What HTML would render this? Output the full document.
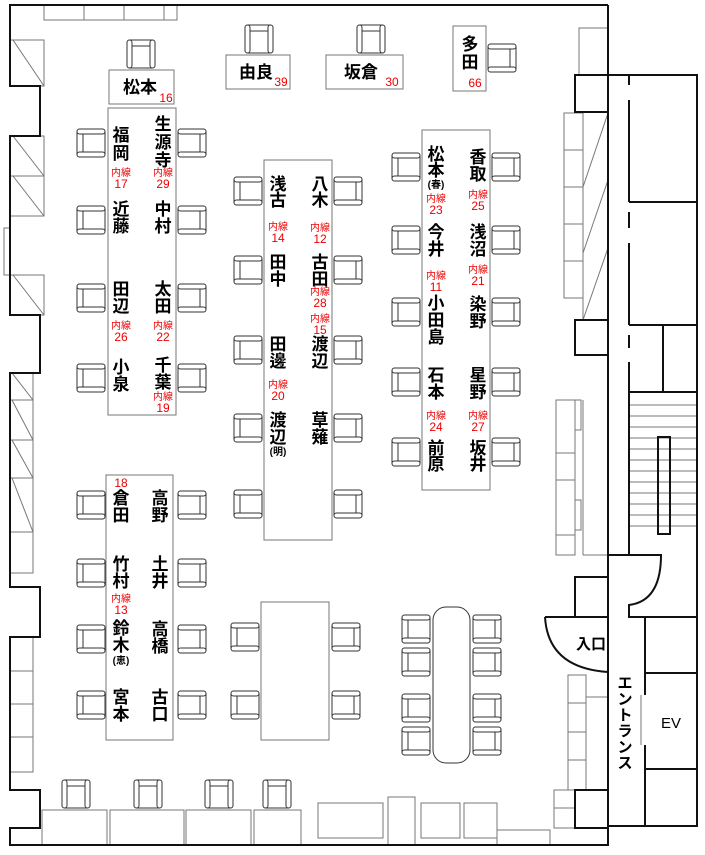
<!DOCTYPE html>
<html><head><meta charset="utf-8"><style>
html,body{margin:0;padding:0;background:#fff}
svg{display:block}
.n{font-family:"Liberation Sans","Noto Sans CJK JP",sans-serif;font-size:17px;font-weight:bold;fill:#000;text-anchor:middle}
.r{font-family:"Liberation Sans","Noto Sans CJK JP",sans-serif;font-size:10px;fill:#e00;text-anchor:middle}
.rn{font-family:"Liberation Sans",sans-serif;font-size:12px;fill:#e00;text-anchor:middle}
.s{font-family:"Liberation Sans","Noto Sans CJK JP",sans-serif;font-size:10px;font-weight:bold;fill:#000;text-anchor:middle}
</style></head><body>
<svg width="705" height="855" viewBox="0 0 705 855" xmlns="http://www.w3.org/2000/svg">
<defs>
<g id="c" fill="#fff" stroke="#333" stroke-width="1">
<rect x="-14" y="-14" width="28" height="28" rx="3"/>
<rect x="-14" y="-14" width="28" height="5" rx="2.5"/>
<rect x="-14" y="9" width="28" height="5" rx="2.5"/>
<line x1="-8" y1="-9" x2="-8" y2="9"/>
</g>
</defs>
<g fill="none" stroke="#777" stroke-width="1">
<!-- top cabinets -->
<rect x="44" y="5" width="133" height="15"/><line x1="84" y1="5" x2="84" y2="20"/><line x1="124" y1="5" x2="124" y2="20"/><line x1="164" y1="5" x2="164" y2="20"/>
<!-- left windows -->
<rect x="10" y="40" width="34" height="46"/><line x1="13" y1="40" x2="44" y2="86"/>
<rect x="10" y="136" width="34" height="40"/><line x1="13" y1="136" x2="44" y2="176"/>
<rect x="10" y="176" width="34" height="40"/><line x1="13" y1="176" x2="44" y2="216"/>
<rect x="4" y="228" width="6" height="47"/>
<rect x="10" y="275" width="34" height="40"/><line x1="13" y1="275" x2="44" y2="315"/>
<rect x="10" y="373" width="23" height="200"/>
<line x1="10" y1="400" x2="33" y2="400"/><line x1="10" y1="440" x2="33" y2="440"/><line x1="10" y1="478" x2="33" y2="478"/><line x1="10" y1="532" x2="33" y2="532"/>
<line x1="12" y1="373" x2="33" y2="400"/><line x1="12" y1="400" x2="33" y2="440"/><line x1="12" y1="440" x2="33" y2="478"/><line x1="12" y1="478" x2="33" y2="532"/>
<rect x="10" y="637" width="23" height="135"/><line x1="10" y1="671" x2="33" y2="671"/><line x1="10" y1="704" x2="33" y2="704"/><line x1="10" y1="737" x2="33" y2="737"/>
<!-- tables -->
<rect x="109" y="70" width="65" height="34"/>
<rect x="226" y="55" width="64" height="34"/>
<rect x="326" y="55" width="77" height="34"/>
<rect x="453" y="26" width="33" height="65"/>
<rect x="108" y="108" width="68" height="307"/>
<rect x="264" y="160" width="68" height="380"/>
<rect x="422" y="130" width="68" height="360"/>
<rect x="106" y="475" width="67" height="265"/>
<rect x="261" y="602" width="68" height="138"/>
<rect x="433" y="607" width="37" height="156" rx="13" stroke="#333"/>
<!-- bottom desks -->
<rect x="42" y="810" width="65" height="35"/><rect x="110" y="810" width="74" height="35"/><rect x="186" y="810" width="65" height="35"/><rect x="254" y="810" width="47" height="35"/>
<rect x="318" y="803" width="65" height="35"/><rect x="388" y="797" width="27" height="48"/><rect x="421" y="803" width="39" height="35"/><rect x="464" y="803" width="33" height="35"/><rect x="497" y="830" width="53" height="15"/>
<!-- right side cabinets -->
<rect x="579" y="28" width="29" height="47"/>
<rect x="564" y="113" width="19" height="185"/><line x1="564" y1="150" x2="583" y2="150"/><line x1="564" y1="187" x2="583" y2="187"/><line x1="564" y1="224" x2="583" y2="224"/><line x1="564" y1="261" x2="583" y2="261"/>
<line x1="583" y1="113" x2="583" y2="320"/><line x1="583" y1="187" x2="608" y2="113"/><line x1="583" y1="253" x2="608" y2="180"/><line x1="583" y1="320" x2="608" y2="248"/>
<rect x="556" y="400" width="19" height="155"/><line x1="556" y1="453" x2="575" y2="453"/><line x1="556" y1="480" x2="575" y2="480"/><line x1="556" y1="535" x2="575" y2="535"/>
<rect x="575" y="400" width="6" height="30"/><rect x="575" y="500" width="6" height="30"/>
<line x1="583" y1="400" x2="583" y2="555"/><line x1="583" y1="555" x2="608" y2="555"/>
<rect x="568" y="675" width="18" height="115"/><line x1="568" y1="703" x2="586" y2="703"/><line x1="568" y1="732" x2="586" y2="732"/><line x1="568" y1="760" x2="586" y2="760"/>
<line x1="586" y1="697" x2="608" y2="697"/><line x1="586" y1="697" x2="586" y2="790"/>
<rect x="554" y="790" width="21" height="38"/><line x1="554" y1="808" x2="575" y2="808"/>
<!-- stairs -->
<line x1="630" y1="405" x2="697" y2="405"/><line x1="630" y1="416" x2="697" y2="416"/><line x1="630" y1="427" x2="697" y2="427"/><line x1="630" y1="438" x2="697" y2="438"/><line x1="630" y1="449" x2="697" y2="449"/><line x1="630" y1="460" x2="697" y2="460"/><line x1="630" y1="471" x2="697" y2="471"/><line x1="630" y1="482" x2="697" y2="482"/><line x1="630" y1="493" x2="697" y2="493"/><line x1="630" y1="504" x2="697" y2="504"/><line x1="630" y1="515" x2="697" y2="515"/><line x1="630" y1="526" x2="697" y2="526"/>
<line x1="641" y1="695" x2="641" y2="745"/>
</g>
<!-- thick walls -->
<g fill="none" stroke="#111" stroke-width="2">
<path d="M608,5 H10 V86 H40 V136 H10 V315 H40 V373 H10 V587 H40 V637 H10 V790 H40 V828 H10 V845 H608 V5"/>
<rect x="575" y="75" width="33" height="37"/>
<rect x="575" y="320" width="33" height="35"/>
<rect x="575" y="577" width="33" height="40"/>
<rect x="575" y="790" width="33" height="38"/>
<path d="M608,75 H697 V826 H608"/>
<path d="M629,75 V85 M629,100 V202 M629,212 V228 M629,243 V325 M629,335 V348 M629,362 V555"/>
<line x1="629" y1="202" x2="697" y2="202"/>
<line x1="629" y1="325" x2="697" y2="325"/>
<line x1="663" y1="325" x2="663" y2="392"/>
<line x1="629" y1="392" x2="697" y2="392"/>
<rect x="658" y="437" width="12" height="97"/>
<path d="M608,555 H661 Q661,601 629,605 V617 H697"/>
<path d="M545,617 H608 M545,617 Q548,668 608,672"/>
<line x1="645" y1="617" x2="645" y2="695"/><line x1="645" y1="745" x2="645" y2="826"/>
<line x1="645" y1="673" x2="697" y2="673"/><line x1="645" y1="769" x2="697" y2="769"/>
</g>
<!-- chairs -->
<g>
<use href="#c" transform="translate(141,54) rotate(90)"/>
<use href="#c" transform="translate(259,39) rotate(90)"/>
<use href="#c" transform="translate(371,39) rotate(90)"/>
<use href="#c" transform="translate(502,58) rotate(180)"/>
<use href="#c" transform="translate(91,143)"/><use href="#c" transform="translate(91,220)"/><use href="#c" transform="translate(91,298)"/><use href="#c" transform="translate(91,378)"/>
<use href="#c" transform="translate(192,143) rotate(180)"/><use href="#c" transform="translate(192,220) rotate(180)"/><use href="#c" transform="translate(192,298) rotate(180)"/><use href="#c" transform="translate(192,378) rotate(180)"/>
<use href="#c" transform="translate(248,191)"/><use href="#c" transform="translate(248,270)"/><use href="#c" transform="translate(248,350)"/><use href="#c" transform="translate(248,428)"/><use href="#c" transform="translate(248,504)"/>
<use href="#c" transform="translate(348,191) rotate(180)"/><use href="#c" transform="translate(348,270) rotate(180)"/><use href="#c" transform="translate(348,350) rotate(180)"/><use href="#c" transform="translate(348,428) rotate(180)"/><use href="#c" transform="translate(348,504) rotate(180)"/>
<use href="#c" transform="translate(406,167)"/><use href="#c" transform="translate(406,240)"/><use href="#c" transform="translate(406,312)"/><use href="#c" transform="translate(406,382)"/><use href="#c" transform="translate(406,452)"/>
<use href="#c" transform="translate(506,167) rotate(180)"/><use href="#c" transform="translate(506,240) rotate(180)"/><use href="#c" transform="translate(506,312) rotate(180)"/><use href="#c" transform="translate(506,382) rotate(180)"/><use href="#c" transform="translate(506,452) rotate(180)"/>
<use href="#c" transform="translate(91,505)"/><use href="#c" transform="translate(91,573)"/><use href="#c" transform="translate(91,639)"/><use href="#c" transform="translate(91,705)"/>
<use href="#c" transform="translate(192,505) rotate(180)"/><use href="#c" transform="translate(192,573) rotate(180)"/><use href="#c" transform="translate(192,639) rotate(180)"/><use href="#c" transform="translate(192,705) rotate(180)"/>
<use href="#c" transform="translate(245,637)"/><use href="#c" transform="translate(245,705)"/>
<use href="#c" transform="translate(346,637) rotate(180)"/><use href="#c" transform="translate(346,705) rotate(180)"/>
<use href="#c" transform="translate(416,629)"/><use href="#c" transform="translate(416,662)"/><use href="#c" transform="translate(416,708)"/><use href="#c" transform="translate(416,741)"/>
<use href="#c" transform="translate(487,629) rotate(180)"/><use href="#c" transform="translate(487,662) rotate(180)"/><use href="#c" transform="translate(487,708) rotate(180)"/><use href="#c" transform="translate(487,741) rotate(180)"/>
<use href="#c" transform="translate(76,794) rotate(90)"/><use href="#c" transform="translate(148,794) rotate(90)"/><use href="#c" transform="translate(219,794) rotate(90)"/><use href="#c" transform="translate(277,794) rotate(90)"/>
</g>
<!-- labels -->
<text class="n" x="140" y="93" style="text-anchor:middle">松本</text><text class="rn" x="166" y="102">16</text>
<text class="n" x="256" y="78">由良</text><text class="rn" x="281" y="86">39</text>
<text class="n" x="361" y="78">坂倉</text><text class="rn" x="392" y="86">30</text>
<text class="n" x="470" y="50">多</text><text class="n" x="470" y="68">田</text><text class="rn" x="475" y="87">66</text>

<text class="n" x="121" y="141">福</text><text class="n" x="121" y="159">岡</text>
<text class="r" x="121" y="176">内線</text><text class="rn" x="121" y="188">17</text>
<text class="n" x="163" y="130">生</text><text class="n" x="163" y="148">源</text><text class="n" x="163" y="166">寺</text>
<text class="r" x="163" y="176">内線</text><text class="rn" x="163" y="188">29</text>
<text class="n" x="121" y="215">近</text><text class="n" x="121" y="232">藤</text>
<text class="n" x="163" y="215">中</text><text class="n" x="163" y="232">村</text>
<text class="n" x="121" y="295">田</text><text class="n" x="121" y="312">辺</text>
<text class="r" x="121" y="329">内線</text><text class="rn" x="121" y="341">26</text>
<text class="n" x="163" y="295">太</text><text class="n" x="163" y="312">田</text>
<text class="r" x="163" y="329">内線</text><text class="rn" x="163" y="341">22</text>
<text class="n" x="121" y="373">小</text><text class="n" x="121" y="390">泉</text>
<text class="n" x="163" y="371">千</text><text class="n" x="163" y="388">葉</text>
<text class="r" x="163" y="400">内線</text><text class="rn" x="163" y="412">19</text>

<text class="n" x="278" y="190">浅</text><text class="n" x="278" y="206">古</text>
<text class="r" x="278" y="230">内線</text><text class="rn" x="278" y="242">14</text>
<text class="n" x="320" y="190">八</text><text class="n" x="320" y="206">木</text>
<text class="r" x="320" y="231">内線</text><text class="rn" x="320" y="243">12</text>
<text class="n" x="278" y="268">田</text><text class="n" x="278" y="285">中</text>
<text class="n" x="320" y="268">古</text><text class="n" x="320" y="285">田</text>
<text class="r" x="320" y="295">内線</text><text class="rn" x="320" y="307">28</text>
<text class="r" x="320" y="322">内線</text><text class="rn" x="320" y="334">15</text>
<text class="n" x="278" y="350">田</text><text class="n" x="278" y="367">邊</text>
<text class="n" x="320" y="350">渡</text><text class="n" x="320" y="367">辺</text>
<text class="r" x="278" y="388">内線</text><text class="rn" x="278" y="400">20</text>
<text class="n" x="278" y="426">渡</text><text class="n" x="278" y="443">辺</text><text class="s" x="278" y="455">(明)</text>
<text class="n" x="320" y="426">草</text><text class="n" x="320" y="443">薙</text>

<text class="n" x="436" y="160">松</text><text class="n" x="436" y="176">本</text><text class="s" x="436" y="188">(春)</text>
<text class="r" x="436" y="202">内線</text><text class="rn" x="436" y="214">23</text>
<text class="n" x="436" y="238">今</text><text class="n" x="436" y="255">井</text>
<text class="r" x="436" y="279">内線</text><text class="rn" x="436" y="291">11</text>
<text class="n" x="436" y="309">小</text><text class="n" x="436" y="326">田</text><text class="n" x="436" y="343">島</text>
<text class="n" x="436" y="381">石</text><text class="n" x="436" y="398">本</text>
<text class="r" x="436" y="419">内線</text><text class="rn" x="436" y="431">24</text>
<text class="n" x="436" y="454">前</text><text class="n" x="436" y="470">原</text>
<text class="n" x="478" y="163">香</text><text class="n" x="478" y="180">取</text>
<text class="r" x="478" y="198">内線</text><text class="rn" x="478" y="210">25</text>
<text class="n" x="478" y="238">浅</text><text class="n" x="478" y="255">沼</text>
<text class="r" x="478" y="273">内線</text><text class="rn" x="478" y="285">21</text>
<text class="n" x="478" y="310">染</text><text class="n" x="478" y="327">野</text>
<text class="n" x="478" y="381">星</text><text class="n" x="478" y="398">野</text>
<text class="r" x="478" y="419">内線</text><text class="rn" x="478" y="431">27</text>
<text class="n" x="478" y="454">坂</text><text class="n" x="478" y="470">井</text>

<text class="rn" x="121" y="487">18</text>
<text class="n" x="121" y="504">倉</text><text class="n" x="121" y="521">田</text>
<text class="n" x="160" y="504">高</text><text class="n" x="160" y="521">野</text>
<text class="n" x="121" y="570">竹</text><text class="n" x="121" y="587">村</text>
<text class="r" x="121" y="602">内線</text><text class="rn" x="121" y="614">13</text>
<text class="n" x="160" y="570">土</text><text class="n" x="160" y="587">井</text>
<text class="n" x="121" y="634">鈴</text><text class="n" x="121" y="651">木</text><text class="s" x="121" y="664">(恵)</text>
<text class="n" x="160" y="635">高</text><text class="n" x="160" y="652">橋</text>
<text class="n" x="121" y="703">宮</text><text class="n" x="121" y="720">本</text>
<text class="n" x="160" y="703">古</text><text class="n" x="160" y="720">口</text>

<text class="n" x="591" y="649" style="font-size:15px">入口</text>
<text class="n" x="625" y="688" style="font-size:15px">エ</text><text class="n" x="625" y="704" style="font-size:15px">ン</text><text class="n" x="625" y="720" style="font-size:15px">ト</text><text class="n" x="625" y="736" style="font-size:15px">ラ</text><text class="n" x="625" y="752" style="font-size:15px">ン</text><text class="n" x="625" y="768" style="font-size:15px">ス</text>
<text class="n" x="671" y="728" style="font-size:15px;font-weight:normal">EV</text>
</svg>
</body></html>
